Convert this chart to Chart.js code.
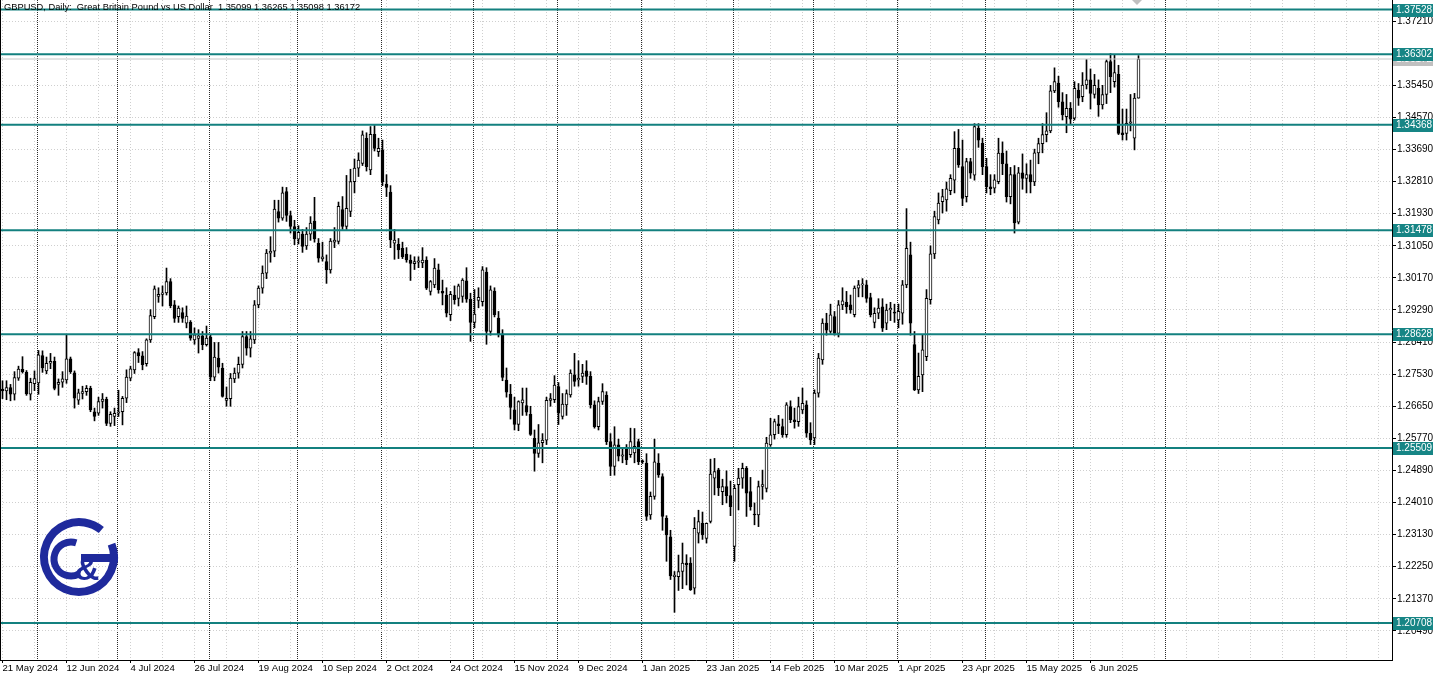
<!DOCTYPE html>
<html><head><meta charset="utf-8">
<script src="https://cdn.jsdelivr.net/npm/chart.js@4.4.1/dist/chart.umd.min.js"></script>
<style>html,body{margin:0;padding:0;background:#fff;overflow:hidden}#wrap{width:1440px;height:677px;position:relative}</style>
</head><body><div id="wrap"><canvas id="c" width="1440" height="677"></canvas></div>
<script>
// ---- DATA (daily GBPUSD, 21 May 2024 .. 24 Jun 2025, one value per bar) ----
const openP = [
1.2712,1.2707,1.2716,1.2698,1.2742,1.2766,1.2758,1.2698,1.2727,1.2729,
1.2804,1.2762,1.2783,1.2788,1.2725,1.2731,1.2737,1.2795,1.2757,1.2682,
1.2700,1.2705,1.2714,1.2650,1.2646,1.2678,1.2684,1.2618,1.2637,1.2646,
1.2650,1.2687,1.2742,1.2765,1.2812,1.2803,1.2782,1.2847,1.2911,1.2966,
1.2972,1.2976,1.3007,1.2943,1.2911,1.2922,1.2893,1.2895,1.2847,1.2851,
1.2858,1.2834,1.2855,1.2745,1.2797,1.2770,1.2681,1.2686,1.2740,1.2756,
1.2780,1.2856,1.2824,1.2847,1.2943,1.2989,1.3030,1.3085,1.3090,1.3199,
1.3181,1.3254,1.3188,1.3158,1.3123,1.3137,1.3105,1.3137,1.3173,1.3112,
1.3069,1.3062,1.3039,1.3115,1.3117,1.3204,1.3158,1.3199,1.3281,1.3318,
1.3331,1.3400,1.3313,1.3411,1.3363,1.3368,1.3274,1.3252,1.3112,1.3109,
1.3098,1.3082,1.3066,1.3056,1.3060,1.3058,1.3066,1.2980,1.2998,1.3039,
1.2980,1.2970,1.2916,1.2970,1.2961,1.2966,1.3009,1.2959,1.2895,1.2955,
1.2952,1.3033,1.2870,1.2981,1.2907,1.2863,1.2737,1.2698,1.2655,1.2615,
1.2674,1.2667,1.2643,1.2577,1.2536,1.2565,1.2572,1.2681,1.2683,1.2719,
1.2637,1.2669,1.2696,1.2751,1.2737,1.2747,1.2762,1.2747,1.2669,1.2609,
1.2678,1.2696,1.2568,1.2500,1.2559,1.2528,1.2550,1.2532,1.2537,1.2568,
1.2513,1.2509,1.2367,1.2418,1.2509,1.2472,1.2358,1.2307,1.2198,1.2198,
1.2212,1.2235,1.2235,1.2166,1.2317,1.2344,1.2303,1.2349,1.2468,1.2491,
1.2431,1.2445,1.2420,1.2281,1.2450,1.2468,1.2495,1.2431,1.2367,1.2367,
1.2445,1.2440,1.2559,1.2587,1.2617,1.2609,1.2587,1.2664,1.2628,1.2623,
1.2655,1.2669,1.2591,1.2578,1.2701,1.2792,1.2893,1.2870,1.2911,1.2865,
1.2943,1.2950,1.2943,1.2916,1.2989,1.2998,1.2998,1.2963,1.2895,1.2920,
1.2938,1.2893,1.2929,1.2923,1.2902,1.2920,1.2998,1.3080,1.2834,1.2710,
1.2751,1.2801,1.2957,1.3083,1.3176,1.3226,1.3231,1.3256,1.3285,1.3372,
1.3322,1.3240,1.3336,1.3299,1.3427,1.3386,1.3322,1.3267,1.3263,1.3281,
1.3359,1.3330,1.3240,1.3300,1.3170,1.3305,1.3290,1.3300,1.3280,1.3360,
1.3385,1.3410,1.3420,1.3530,1.3551,1.3500,1.3459,1.3482,1.3455,1.3532,
1.3514,1.3546,1.3560,1.3520,1.3537,1.3491,1.3520,1.3610,1.3555,1.3575,
1.3415,1.3413,1.3441,1.3400,1.35099];
const highP = [
1.2735,1.2735,1.2725,1.2760,1.2775,1.2801,1.2763,1.2742,1.2762,1.2818,
1.2817,1.2800,1.2810,1.2800,1.2740,1.2760,1.2860,1.2800,1.2762,1.2712,
1.2720,1.2722,1.2720,1.2660,1.2690,1.2700,1.2690,1.2650,1.2660,1.2709,
1.2692,1.2765,1.2775,1.2815,1.2823,1.2815,1.2850,1.2930,1.2995,1.2990,
1.2995,1.3044,1.3015,1.2955,1.2940,1.2935,1.2940,1.2900,1.2880,1.2875,
1.2870,1.2885,1.2862,1.2840,1.2840,1.2783,1.2718,1.2755,1.2770,1.2800,
1.2870,1.2870,1.2870,1.2955,1.2995,1.3050,1.3095,1.3130,1.3230,1.3230,
1.3266,1.3265,1.3200,1.3175,1.3160,1.3150,1.3155,1.3185,1.3238,1.3125,
1.3115,1.3080,1.3125,1.3155,1.3225,1.3240,1.3298,1.3315,1.3343,1.3360,
1.3420,1.3415,1.3432,1.3435,1.3400,1.3395,1.3300,1.3270,1.3150,1.3125,
1.3115,1.3100,1.3080,1.3075,1.3075,1.3100,1.3075,1.3010,1.3070,1.3055,
1.3011,1.2990,1.2980,1.2995,1.3000,1.3015,1.3045,1.2975,1.2985,1.2990,
1.3048,1.3045,1.2995,1.2990,1.2925,1.2875,1.2770,1.2725,1.2690,1.2680,
1.2715,1.2715,1.2665,1.2600,1.2615,1.2590,1.2690,1.2700,1.2749,1.2730,
1.2700,1.2710,1.2765,1.2810,1.2790,1.2780,1.2790,1.2760,1.2680,1.2690,
1.2727,1.2705,1.2590,1.2609,1.2575,1.2550,1.2560,1.2605,1.2604,1.2575,
1.2518,1.2535,1.2430,1.2575,1.2535,1.2480,1.2365,1.2325,1.2212,1.2257,
1.2290,1.2258,1.2250,1.2360,1.2380,1.2375,1.2345,1.2520,1.2522,1.2495,
1.2465,1.2488,1.2460,1.2450,1.2495,1.2509,1.2500,1.2470,1.2400,1.2460,
1.2490,1.2580,1.2632,1.2630,1.2640,1.2630,1.2675,1.2680,1.2660,1.2690,
1.2715,1.2680,1.2620,1.2710,1.2810,1.2905,1.2920,1.2945,1.2925,1.2955,
1.2990,1.2980,1.2970,1.2995,1.3010,1.3015,1.3010,1.2975,1.2935,1.2960,
1.2960,1.2945,1.2950,1.2945,1.2945,1.3010,1.3207,1.3115,1.2870,1.2811,
1.2861,1.2985,1.3105,1.3200,1.3250,1.3260,1.3280,1.3300,1.3418,1.3424,
1.3395,1.3345,1.3345,1.3440,1.3440,1.3400,1.3345,1.3300,1.3300,1.3400,
1.3390,1.3365,1.3320,1.3325,1.3320,1.3357,1.3330,1.3340,1.3370,1.3400,
1.3440,1.3470,1.3545,1.3593,1.3570,1.3525,1.3520,1.3498,1.3555,1.3550,
1.3580,1.3616,1.3590,1.3575,1.3560,1.3545,1.3615,1.3632,1.3630,1.3600,
1.3480,1.3480,1.3520,1.3523,1.36265];
const lowP = [
1.2686,1.2683,1.2680,1.2682,1.2736,1.2756,1.2695,1.2682,1.2708,1.2698,
1.2758,1.2754,1.2768,1.2710,1.2695,1.2717,1.2728,1.2755,1.2660,1.2670,
1.2685,1.2695,1.2650,1.2625,1.2640,1.2660,1.2612,1.2610,1.2612,1.2637,
1.2614,1.2675,1.2735,1.2755,1.2785,1.2765,1.2775,1.2840,1.2905,1.2950,
1.2940,1.2970,1.2935,1.2895,1.2895,1.2895,1.2880,1.2846,1.2835,1.2811,
1.2820,1.2830,1.2735,1.2735,1.2756,1.2690,1.2665,1.2665,1.2730,1.2742,
1.2770,1.2805,1.2800,1.2837,1.2935,1.2975,1.3015,1.3060,1.3075,1.3170,
1.3175,1.3172,1.3140,1.3108,1.3110,1.3087,1.3095,1.3120,1.3115,1.3060,
1.3063,1.3002,1.3030,1.3100,1.3110,1.3150,1.3150,1.3185,1.3250,1.3295,
1.3325,1.3310,1.3300,1.3365,1.3350,1.3270,1.3240,1.3100,1.3068,1.3070,
1.3070,1.3060,1.3010,1.3040,1.3045,1.3045,1.2985,1.2970,1.2990,1.2975,
1.2943,1.2910,1.2900,1.2945,1.2940,1.2950,1.2950,1.2843,1.2880,1.2935,
1.2940,1.2835,1.2860,1.2910,1.2855,1.2735,1.2690,1.2630,1.2600,1.2598,
1.2640,1.2640,1.2585,1.2487,1.2525,1.2510,1.2560,1.2665,1.2675,1.2615,
1.2630,1.2640,1.2690,1.2720,1.2720,1.2730,1.2725,1.2660,1.2605,1.2600,
1.2670,1.2560,1.2475,1.2476,1.2515,1.2510,1.2505,1.2525,1.2510,1.2505,
1.2508,1.2352,1.2355,1.2410,1.2470,1.2325,1.2240,1.2190,1.2100,1.2160,
1.2165,1.2175,1.2160,1.2150,1.2290,1.2300,1.2290,1.2345,1.2422,1.2420,
1.2395,1.2400,1.2365,1.2240,1.2381,1.2440,1.2363,1.2380,1.2340,1.2335,
1.2410,1.2430,1.2555,1.2575,1.2590,1.2580,1.2580,1.2620,1.2605,1.2610,
1.2645,1.2580,1.2560,1.2560,1.2690,1.2780,1.2860,1.2865,1.2860,1.2855,
1.2930,1.2920,1.2920,1.2910,1.2965,1.2965,1.2950,1.2910,1.2880,1.2905,
1.2870,1.2875,1.2900,1.2895,1.2880,1.2890,1.2990,1.2860,1.2708,1.2700,
1.2705,1.2790,1.2945,1.3070,1.3165,1.3195,1.3200,1.3245,1.3250,1.3320,
1.3215,1.3225,1.3290,1.3285,1.3375,1.3300,1.3250,1.3245,1.3250,1.3275,
1.3300,1.3225,1.3220,1.3140,1.3165,1.3260,1.3250,1.3250,1.3270,1.3330,
1.3360,1.3390,1.3415,1.3525,1.3485,1.3450,1.3415,1.3440,1.3450,1.3490,
1.3500,1.3535,1.3480,1.3510,1.3460,1.3480,1.3495,1.3525,1.3540,1.3410,
1.3395,1.3395,1.3420,1.3368,1.35098];
const closeP = [
1.2707,1.2716,1.2698,1.2744,1.2767,1.2760,1.2699,1.2731,1.2741,1.2806,
1.2770,1.2783,1.2788,1.2714,1.2731,1.2740,1.2795,1.2760,1.2687,1.2702,
1.2705,1.2714,1.2655,1.2637,1.2678,1.2685,1.2618,1.2643,1.2646,1.2650,
1.2687,1.2745,1.2768,1.2812,1.2803,1.2779,1.2847,1.2914,1.2987,1.2972,
1.2976,1.3007,1.2941,1.2906,1.2934,1.2906,1.2912,1.2852,1.2861,1.2858,
1.2834,1.2852,1.2745,1.2800,1.2772,1.2692,1.2687,1.2742,1.2756,1.2780,
1.2856,1.2824,1.2850,1.2943,1.2989,1.3030,1.3085,1.3090,1.3206,1.3181,
1.3250,1.3188,1.3158,1.3124,1.3142,1.3103,1.3137,1.3167,1.3124,1.3071,
1.3075,1.3039,1.3118,1.3121,1.3213,1.3158,1.3208,1.3281,1.3318,1.3340,
1.3409,1.3322,1.3411,1.3372,1.3372,1.3281,1.3265,1.3121,1.3121,1.3094,
1.3075,1.3066,1.3057,1.3062,1.3064,1.3066,1.2989,1.3007,1.3044,1.2984,
1.2975,1.2920,1.2972,1.2957,1.2995,1.3011,1.2959,1.2895,1.2918,1.2964,
1.3039,1.2870,1.2984,1.2916,1.2863,1.2744,1.2704,1.2662,1.2615,1.2678,
1.2683,1.2649,1.2588,1.2536,1.2565,1.2572,1.2681,1.2686,1.2723,1.2646,
1.2671,1.2700,1.2756,1.2733,1.2742,1.2756,1.2747,1.2669,1.2609,1.2678,
1.2705,1.2568,1.2500,1.2559,1.2528,1.2532,1.2518,1.2568,1.2555,1.2513,
1.2513,1.2363,1.2418,1.2513,1.2477,1.2363,1.2312,1.2200,1.2202,1.2212,
1.2235,1.2230,1.2162,1.2330,1.2349,1.2312,1.2344,1.2479,1.2486,1.2441,
1.2445,1.2420,1.2390,1.2440,1.2468,1.2495,1.2427,1.2390,1.2367,1.2445,
1.2450,1.2564,1.2587,1.2623,1.2612,1.2587,1.2669,1.2628,1.2623,1.2664,
1.2673,1.2591,1.2573,1.2701,1.2797,1.2893,1.2874,1.2916,1.2865,1.2943,
1.2954,1.2938,1.2929,1.2989,1.2998,1.3000,1.2961,1.2916,1.2920,1.2934,
1.2879,1.2929,1.2934,1.2920,1.2925,1.2998,1.3098,1.2893,1.2710,1.2747,
1.2820,1.2961,1.3083,1.3185,1.3222,1.3240,1.3261,1.3290,1.3372,1.3327,
1.3235,1.3336,1.3304,1.3432,1.3395,1.3322,1.3267,1.3262,1.3286,1.3359,
1.3330,1.3240,1.3300,1.3168,1.3305,1.3290,1.3300,1.3280,1.3360,1.3385,
1.3410,1.3420,1.3530,1.3555,1.3500,1.3464,1.3482,1.3452,1.3537,1.3510,
1.3546,1.3560,1.3523,1.3545,1.3491,1.3520,1.3610,1.3569,1.3580,1.3413,
1.3410,1.3441,1.3445,1.3510,1.36172];

// bottom axis labels, one every 16 bars starting at bar 0
const xTickLabels = ["21 May 2024","12 Jun 2024","4 Jul 2024","26 Jul 2024","19 Aug 2024",
  "10 Sep 2024","2 Oct 2024","24 Oct 2024","15 Nov 2024","9 Dec 2024","1 Jan 2025",
  "23 Jan 2025","14 Feb 2025","10 Mar 2025","1 Apr 2025","23 Apr 2025","15 May 2025","6 Jun 2025"];
// first bar of each month (month separators)
const monthStartIdx = [9,29,52,74,95,118,139,160,183,203,224,246,268,291];
// right axis tick values
const yTicks = [1.20490,1.21370,1.22250,1.23130,1.24010,1.24890,1.25770,1.26650,1.27530,
  1.28410,1.29290,1.30170,1.31050,1.31930,1.32810,1.33690,1.34570,1.35450,1.37210];
// horizontal levels
const levels = [1.37528,1.36302,1.34368,1.31478,1.28628,1.25509,1.20708];
const lastPrice = 1.36172;
const titleText = "GBPUSD, Daily:  Great Britain Pound vs US Dollar  1.35099 1.36265 1.35098 1.36172";

// ---- view settings ----
const X_MIN = -0.625, X_MAX = 347.375;
const Y_MIN = 1.19693, Y_MAX = 1.37790;
const LABEL_STEP = 16, GRID_STEP = 8;
const TEAL = '#13807f', TEAL_BOX = '#168585';
const FONT = '"Liberation Sans", Arial, sans-serif';

const wicks = lowP.map((l, i) => ({x: i, y: [l, highP[i]]}));
const bodies = openP.map((o, i) => ({x: i, y: [Math.min(o, closeP[i]), Math.max(o, closeP[i])]}));
const bodyColors = openP.map((o, i) => closeP[i] > o ? '#ffffff' : '#000000');

const levelSets = levels.map(v => ({
  type: 'line', data: [{x: X_MIN, y: v}, {x: X_MAX, y: v}],
  borderColor: TEAL, borderWidth: 2, pointRadius: 0, order: 0
}));
const lastSet = {type: 'line', data: [{x: X_MIN, y: lastPrice}, {x: X_MAX, y: lastPrice}],
  borderColor: '#c8c8c8', borderWidth: 1, pointRadius: 0, order: 0.5};

const isMonthTick = v => Math.abs(v - Math.round(v)) > 0.1;
const isLabelTick = v => Number.isInteger(v) && v % LABEL_STEP === 0 && v / LABEL_STEP < xTickLabels.length;

function drawLogo(ctx) {
  const cx = 79, cy = 557;
  ctx.save();
  ctx.strokeStyle = '#1f2a9c'; ctx.fillStyle = '#1f2a9c';
  ctx.lineWidth = 8;
  ctx.beginPath(); ctx.arc(cx, cy, 35, -0.12 * Math.PI, 1.72 * Math.PI, false); ctx.stroke();
  ctx.beginPath(); ctx.moveTo(cx + 2, cy + 1); ctx.lineTo(cx + 39, cy + 1); ctx.stroke();
  ctx.lineWidth = 7;
  ctx.beginPath(); ctx.arc(cx - 8, cy + 2, 17, 0.35 * Math.PI, 1.6 * Math.PI, false); ctx.stroke();
  ctx.font = 'bold 34px ' + FONT; ctx.textAlign = 'center'; ctx.textBaseline = 'middle';
  ctx.fillText('&', cx + 8, cy + 14);
  ctx.restore();
}

const decor = {
  id: 'decor',
  beforeDraw(chart) {
    const c = chart.ctx; c.save(); c.fillStyle = '#fff'; c.fillRect(0, 0, chart.width, chart.height); c.restore();
  },
  afterDraw(chart) {
    const {ctx, chartArea: a, scales: {y}} = chart;
    ctx.save();
    ctx.fillStyle = '#000';
    ctx.fillRect(0, 0, 1, a.bottom);
    ctx.font = '10px ' + FONT; ctx.textBaseline = 'middle'; ctx.textAlign = 'left';
    let py = y.getPixelForValue(lastPrice);
    ctx.fillStyle = '#c0c0c0'; ctx.fillRect(a.right + 1, Math.round(py) - 6, 40, 13);
    ctx.fillStyle = '#fff'; ctx.fillText(lastPrice.toFixed(5), a.right + 4, Math.round(py) + 0.5);
    levels.forEach(v => {
      const p = Math.round(y.getPixelForValue(v));
      ctx.fillStyle = TEAL_BOX; ctx.fillRect(a.right + 1, p - 6, 40, 13);
      ctx.fillStyle = '#fff'; ctx.fillText(v.toFixed(5), a.right + 4, p + 0.5);
    });
    ctx.fillStyle = '#000'; ctx.font = '9.3px ' + FONT;
    ctx.fillText(titleText, 4, 7);
    ctx.fillStyle = '#c0c0c0';
    ctx.beginPath(); ctx.moveTo(1132, 0); ctx.lineTo(1142, 0); ctx.lineTo(1137, 5); ctx.closePath(); ctx.fill();
    drawLogo(ctx);
    ctx.restore();
  }
};

new Chart(document.getElementById('c'), {
  type: 'bar',
  data: {
    datasets: [
      ...levelSets, lastSet,
      {label: 'body', data: bodies, backgroundColor: bodyColors, borderColor: '#000', borderWidth: 1,
       borderSkipped: false, barThickness: 3, grouped: false, minBarLength: 1, order: 1},
      {label: 'wick', data: wicks, backgroundColor: '#000', borderWidth: 0,
       barThickness: 1, grouped: false, order: 2}
    ]
  },
  options: {
    responsive: false, animation: false, devicePixelRatio: 1,
    layout: {padding: 0},
    plugins: {legend: {display: false}, tooltip: {enabled: false}},
    scales: {
      x: {
        type: 'linear', position: 'bottom', min: X_MIN, max: X_MAX, offset: false,
        afterBuildTicks: s => {
          const t = [];
          for (let i = 0; i <= 344; i += GRID_STEP) t.push(i);
          monthStartIdx.forEach(m => t.push(m - 0.25));
          t.sort((a, b) => a - b);
          s.ticks = t.map(v => ({value: v}));
        },
        afterFit: s => { s.height = 17; s.paddingLeft = 0; s.paddingRight = 0; },
        grid: {
          offset: false, drawTicks: true, tickLength: 3,
          color: c => c.tick && isMonthTick(c.tick.value) ? '#2a2a2a' : '#cfcfcf',
          tickColor: c => c.tick && isLabelTick(c.tick.value) ? '#000' : 'rgba(0,0,0,0)',
          lineWidth: 1
        },
        border: {display: true, color: '#000', width: 1,
          dash: c => c.tick ? (isMonthTick(c.tick.value) ? [1, 1] : [1, 2]) : []},
        ticks: {
          autoSkip: false, maxRotation: 0, minRotation: 0, align: 'start', padding: 0,
          color: '#000', font: {family: FONT, size: 9.6},
          callback: v => isLabelTick(v) ? xTickLabels[v / LABEL_STEP] : ''
        }
      },
      y: {
        type: 'linear', position: 'right', min: Y_MIN, max: Y_MAX,
        afterBuildTicks: s => { s.ticks = yTicks.map(v => ({value: v})); },
        afterFit: s => { s.width = 48; s.paddingTop = 0; s.paddingBottom = 0; },
        grid: {color: '#cfcfcf', lineWidth: 1, drawTicks: true, tickLength: 4, tickColor: '#000'},
        border: {display: true, color: '#000', width: 1, dash: c => c.tick ? [1, 2] : []},
        ticks: {autoSkip: false, padding: 1, color: '#000', font: {family: FONT, size: 10},
          callback: v => v.toFixed(5)}
      }
    }
  },
  plugins: [decor]
});
</script>
</body></html>
